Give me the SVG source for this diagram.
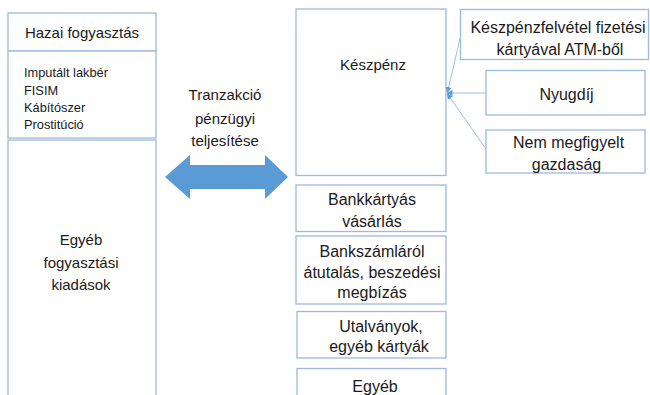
<svg xmlns="http://www.w3.org/2000/svg" width="650" height="395" viewBox="0 0 650 395">
<defs>
<style>
.box{fill:#fff;stroke:#9DB9DE;stroke-width:1.3}
text{font-family:"Liberation Sans",Arial,sans-serif;fill:#1a1a1a;text-anchor:middle}
.s13{font-size:12.8px;text-anchor:start}
.s15{font-size:15px}
.s16{font-size:16px}
.con{stroke:#9DC0E6;stroke-width:1;fill:none}
</style>
<marker id="ah" markerWidth="6" markerHeight="6" refX="5" refY="3" orient="auto" markerUnits="userSpaceOnUse">
<path d="M0,0 L6,3 L0,6 z" fill="#5B9BD5"/>
</marker>
</defs>
<rect width="650" height="395" fill="#fff"/>

<g id="hazai">
<rect class="box" x="8" y="13" width="148" height="38"/>
<text class="s15" x="82" y="38">Hazai fogyasztás</text>
</g>
<g id="lista">
<rect class="box" x="8" y="51" width="148" height="87"/>
<text class="s13" x="24" y="77">Imputált lakbér</text>
<text class="s13" x="24" y="94.5">FISIM</text>
<text class="s13" x="24" y="111.5">Kábítószer</text>
<text class="s13" x="24" y="129">Prostitúció</text>
</g>
<g id="egyeb-fogy">
<rect class="box" x="8" y="140" width="148" height="270"/>
<text class="s15" x="81" y="245">Egyéb</text>
<text class="s15" x="81" y="267.5">fogyasztási</text>
<text class="s15" x="81" y="290">kiadások</text>
</g>

<g id="tranzakcio">
<text class="s15" x="225" y="100">Tranzakció</text>
<text class="s15" x="225" y="124">pénzügyi</text>
<text class="s15" x="225" y="146">teljesítése</text>
<path d="M165,177 L190,155 L190,165 L265,165 L265,155 L288,177 L265,199 L265,189 L190,189 L190,199 Z" fill="#5B9BD5"/>
</g>

<g id="keszpenz">
<rect class="box" x="296" y="9" width="150" height="166.5"/>
<text class="s15" x="373" y="70">Készpénz</text>
</g>
<g id="bankkartya">
<rect class="box" x="296" y="185" width="150" height="46.5"/>
<text class="s16" x="372" y="205">Bankkártyás</text>
<text class="s16" x="372" y="227">vásárlás</text>
</g>
<g id="bankszamla">
<rect class="box" x="296" y="236" width="150" height="68"/>
<text class="s16" x="372" y="256.5">Bankszámláról</text>
<text class="s16" x="372" y="278">átutalás, beszedési</text>
<text class="s16" x="372" y="297.5">megbízás</text>
</g>
<g id="utalvany">
<rect class="box" x="297" y="311.5" width="149" height="46.5"/>
<text class="s16" x="381" y="332">Utalványok,</text>
<text class="s16" x="379" y="352">egyéb kártyák</text>
</g>
<g id="egyeb">
<rect class="box" x="297" y="368.5" width="149" height="40"/>
<text class="s16" x="375" y="392">Egyéb</text>
</g>

<g id="atm">
<rect class="box" x="460.5" y="9.5" width="188" height="50"/>
<text class="s16" x="558" y="33">Készpénzfelvétel fizetési</text>
<text class="s16" x="560" y="55">kártyával ATM-ből</text>
</g>
<g id="nyugdij">
<rect class="box" x="486" y="70.5" width="159" height="44.5"/>
<text class="s16" x="566.5" y="100">Nyugdíj</text>
</g>
<g id="nem-megfigyelt">
<rect class="box" x="486" y="130" width="159" height="43"/>
<text class="s16" x="568.5" y="148">Nem megfigyelt</text>
<text class="s16" x="566.5" y="170">gazdaság</text>
</g>

<g id="connectors">
<line class="con" x1="460.5" y1="36.5" x2="447.5" y2="92" marker-end="url(#ah)"/>
<line class="con" x1="486" y1="93" x2="447.5" y2="93" marker-end="url(#ah)"/>
<line class="con" x1="486" y1="149" x2="447.5" y2="94" marker-end="url(#ah)"/>
</g>
</svg>
